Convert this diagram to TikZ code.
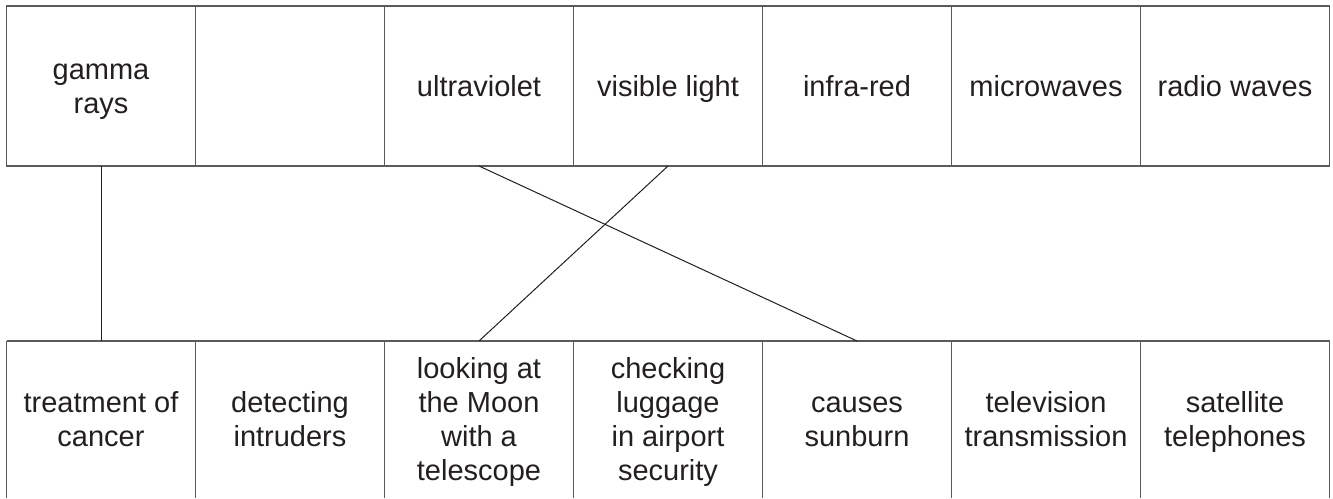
\documentclass[tikz,border=0pt]{standalone}
\usepackage{fontspec}
\setmainfont{Liberation Sans}
\definecolor{ink}{HTML}{231F20}
\definecolor{boxline}{HTML}{5A5A5A}
\newcommand\tstrut{\rule[-7pt]{0pt}{34pt}}
\begin{document}
\begin{tikzpicture}[x=1pt,y=-1pt,
  cell/.style={minimum width=189pt,inner sep=0pt,outer sep=0pt,align=center,
    font=\fontsize{29}{34}\selectfont,text=ink,anchor=north west},
  topcell/.style={cell,minimum height=160pt,draw=boxline,line width=1.3pt},
  botcell/.style={cell,minimum height=157pt},
  frame/.style={draw=boxline,line width=1.3pt},
  link/.style={draw=ink,line width=1pt}]
\useasboundingbox (0,0) rectangle (1333,498);
% top row
\node[topcell] (t1) at (6.5,6) {\tstrut gamma\\\tstrut rays};
\node[topcell] (t2) at (195.5,6) {};
\node[topcell] (t3) at (384.5,6) {\tstrut ultraviolet};
\node[topcell] (t4) at (573.5,6) {\tstrut visible light};
\node[topcell] (t5) at (762.5,6) {\tstrut infra-red};
\node[topcell] (t6) at (951.5,6) {\tstrut microwaves};
\node[topcell] (t7) at (1140.5,6) {\tstrut radio waves};
% bottom row
\node[botcell] (b1) at (6.5,341) {\tstrut treatment of\\\tstrut cancer};
\node[botcell] (b2) at (195.5,341) {\tstrut detecting\\\tstrut intruders};
\node[botcell] (b3) at (384.5,341) {\tstrut looking at\\\tstrut the Moon\\\tstrut with a\\\tstrut telescope};
\node[botcell] (b4) at (573.5,341) {\tstrut checking\\\tstrut luggage\\\tstrut in airport\\\tstrut security};
\node[botcell] (b5) at (762.5,341) {\tstrut causes\\\tstrut sunburn};
\node[botcell] (b6) at (951.5,341) {\tstrut television\\\tstrut transmission};
\node[botcell] (b7) at (1140.5,341) {\tstrut satellite\\\tstrut telephones};
\draw[frame] (b1.north west) -- (b7.north east);
\foreach \n in {1,...,7} {\draw[frame] (b\n.north west) -- (b\n.south west);}
\draw[frame] (b7.north east) -- (b7.south east);
% connectors
\draw[link] (t1.south) -- (b1.north);
\draw[link] (t3.south) -- (b5.north);
\draw[link] (t4.south) -- (b3.north);
\end{tikzpicture}
\end{document}
